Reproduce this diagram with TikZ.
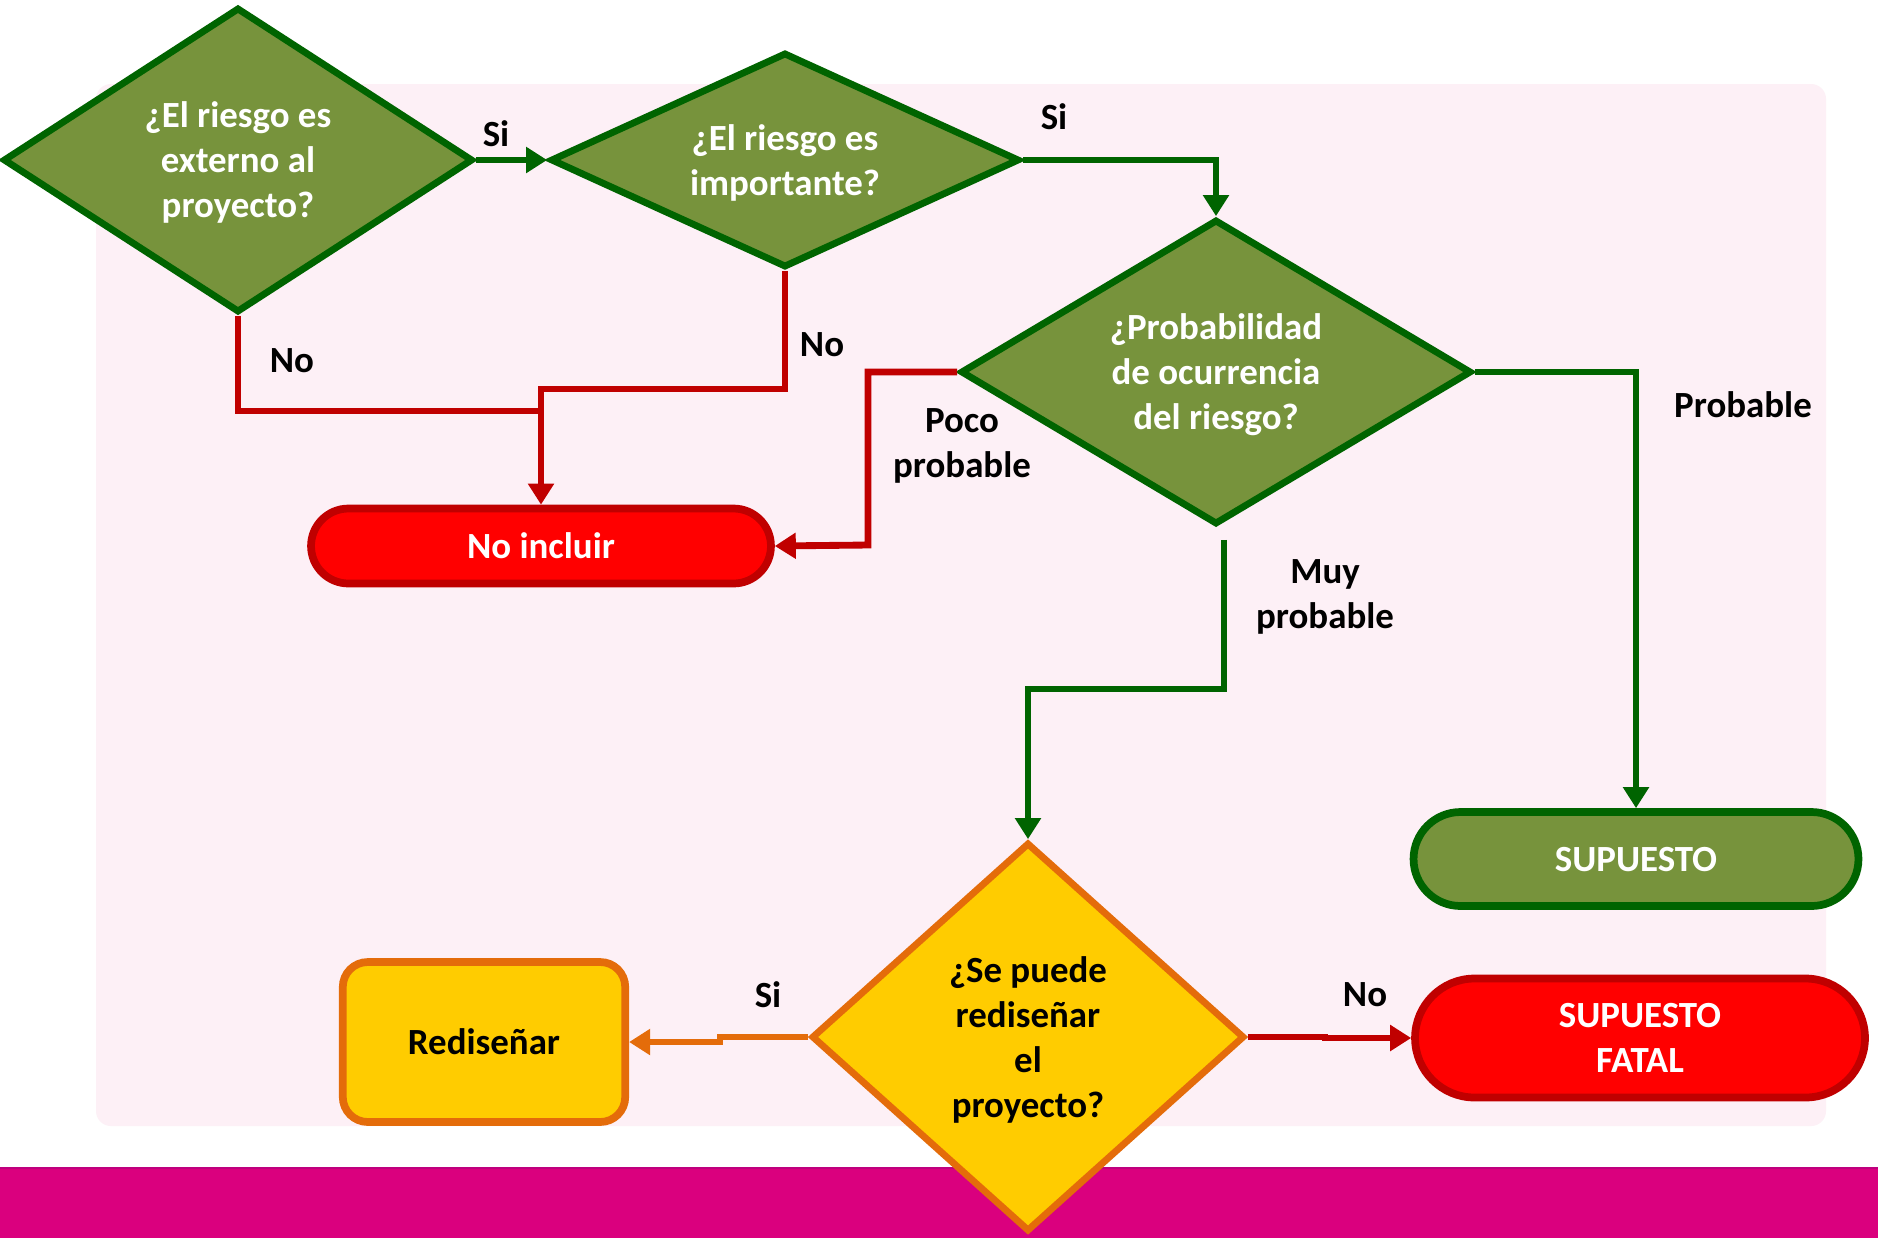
\documentclass[tikz,border=0pt]{standalone}
\usepackage{fontspec}
\setmainfont{Carlito}
\usetikzlibrary{shapes.geometric,shapes.misc,arrows.meta}

\definecolor{verdehoja}{RGB}{119,147,60}
\definecolor{verdeosc}{RGB}{0,100,0}
\definecolor{rojofill}{RGB}{255,0,0}
\definecolor{rojoosc}{RGB}{192,0,0}
\definecolor{amarillo}{RGB}{255,204,0}
\definecolor{naranja}{RGB}{228,108,10}
\definecolor{rosafondo}{RGB}{253,240,246}
\definecolor{magenta}{RGB}{218,0,126}

\tikzset{
  texto/.style={font=\bfseries\fontsize{21}{25.6}\selectfont, align=center, text depth=0pt},
  pregunta/.style={diamond, texto, draw=verdeosc, fill=verdehoja, text=white,
    line width=3.9pt, inner sep=0pt, aspect=1.6},
  final/.style={rounded rectangle, texto, line width=4.4pt, inner sep=0pt},
  flecha/.style={line width=3.9pt, -{Triangle[length=0.42cm,width=0.5cm]}},
  linea/.style={line width=3.9pt},
  etiqueta/.style={texto, text=black}
}

\begin{document}
\begin{tikzpicture}[x=0.02cm,y=-0.02cm]
\useasboundingbox (0,0) rectangle (1878,1238);
\fill[white] (0,0) rectangle (1878,1238);
\fill[rosafondo, rounded corners=0.3cm] (96,84) rectangle (1826,1126);
\fill[magenta] (0,1168) rectangle (1878,1238);
\draw[magenta!70!violet, line width=1pt] (0,1168) -- (1878,1168);

% preguntas
\node[pregunta, minimum width=9.4cm, minimum height=6.1cm] (externo) at (238,160) {¿El riesgo es\\externo al\\proyecto?};
\node[pregunta, minimum width=9.38cm, minimum height=4.3cm] (importante) at (785,160) {¿El riesgo es\\importante?};
\node[pregunta, minimum width=10.22cm, minimum height=6.1cm] (probab) at (1216,372) {¿Probabilidad\\de ocurrencia\\del riesgo?};
\node[pregunta, aspect=1, draw=naranja, fill=amarillo, text=black, minimum width=8.66cm, minimum height=7.78cm] (redisenar) at (1028,1037) {¿Se puede\\rediseñar\\el\\proyecto?};

% resultados
\node[final, draw=rojoosc, fill=rojofill, text=white, minimum width=9.2cm, minimum height=1.5cm] (noincluir) at (541,546) {No incluir};
\node[final, draw=verdeosc, fill=verdehoja, text=white, minimum width=8.9cm, minimum height=1.88cm] (supuesto) at (1636,859) {SUPUESTO};
\node[final, draw=rojoosc, fill=rojofill, text=white, minimum width=9.0cm, minimum height=2.38cm] (fatal) at (1640,1038) {SUPUESTO\\FATAL};
\node[texto, draw=naranja, fill=amarillo, line width=4.4pt, rounded corners=0.5cm, minimum width=5.65cm, minimum height=3.2cm] (rediseno) at (484,1042) {Rediseñar};

% codos
\coordinate (j1) at (541,411);
\coordinate (j2) at (541,389);
\coordinate (c3) at (868,545);
\coordinate (c4) at (1224,689);
\coordinate (c5) at (720,1037);
\coordinate (c6) at (1325,1037);

% conectores
\draw[flecha, verdeosc] (externo.east) -- (importante.west);
\draw[flecha, verdeosc] (importante.east) -| (probab.north);
\draw[linea, rojoosc] (externo.south) |- (j1);
\draw[flecha, rojoosc] (importante.south) |- (j2) -- (noincluir.north);
\draw[flecha, rojoosc] (probab.west) -| (c3) -- (noincluir.east);
\draw[flecha, verdeosc] (probab.east) -| (supuesto.north);
\draw[flecha, verdeosc] ([shift={(8,12)}]probab.south) -- (c4) -| (redisenar.north);
\draw[flecha, naranja] (redisenar.west) -- (c5) |- (rediseno.east);
\draw[flecha, rojoosc] (redisenar.east) -- (c6) |- (fatal.west);

% etiquetas
\node[etiqueta] (si1) at (496,134) {Si};
\node[etiqueta] (si2) at (1054,117) {Si};
\node[etiqueta] (no1) at (292,361) {No};
\node[etiqueta] (no2) at (822,345) {No};
\node[etiqueta] (poco) at (962,443) {Poco\\probable};
\node[etiqueta] (prob) at (1743,405) {Probable};
\node[etiqueta] (muy) at (1325,594) {Muy\\probable};
\node[etiqueta] (si3) at (768,995) {Si};
\node[etiqueta] (no3) at (1365,995) {No};
\end{tikzpicture}
\end{document}
